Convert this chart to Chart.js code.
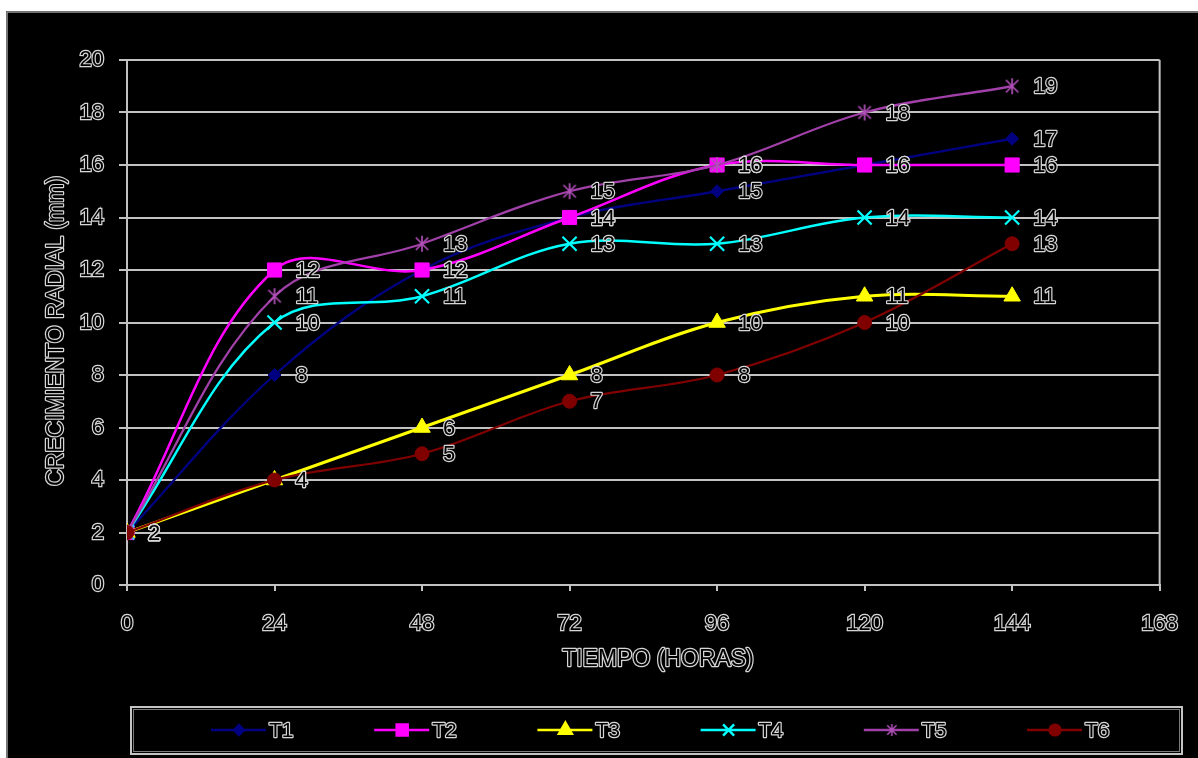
<!DOCTYPE html>
<html>
<head>
<meta charset="utf-8">
<script src="https://cdn.jsdelivr.net/npm/chart.js@4/dist/chart.umd.min.js"></script>
<style>
  html, body { margin: 0; padding: 0; background: #fff; }
  canvas { display: block; }
</style>
</head>
<body>
<canvas id="c" width="1198" height="758"></canvas>
<script>
// Radial growth (mm) per treatment, measured every 24 hours
const horas = [0, 24, 48, 72, 96, 120, 144];
const T1 = [2, 8, 12, 14, 15, 16, 17];
const T2 = [2, 12, 12, 14, 16, 16, 16];
const T3 = [2, 4, 6, 8, 10, 11, 11];
const T4 = [2, 10, 11, 13, 13, 14, 14];
const T5 = [2, 11, 13, 15, 16, 18, 19];
const T6 = [2, 4, 5, 7, 8, 10, 13];
const seriesNames = ['T1', 'T2', 'T3', 'T4', 'T5', 'T6'];
const xTickValues = [0, 24, 48, 72, 96, 120, 144, 168];
const yTickValues = [0, 2, 4, 6, 8, 10, 12, 14, 16, 18, 20];
const xTitle = 'TIEMPO (HORAS)';
const yTitle = 'CRECIMIENTO RADIAL (mm)';

const W = 1198, H = 758;
const FONT = '"Liberation Sans", Arial, sans-serif';
const GRID = '#c2c2c2';
const OUTLINE = '#d6d6d6';

// asterisk marker: two diagonals plus a vertical stroke
function makeAsterisk(color, size, lw) {
  const c = document.createElement('canvas');
  c.width = c.height = size;
  const g = c.getContext('2d');
  g.strokeStyle = color; g.lineWidth = lw; g.lineCap = 'butt';
  const m = size / 2, r = size / 2 - 1, d = r * 0.78;
  g.beginPath();
  g.moveTo(m - d, m - d); g.lineTo(m + d, m + d);
  g.moveTo(m + d, m - d); g.lineTo(m - d, m + d);
  g.moveTo(m, m - r); g.lineTo(m, m + r);
  g.stroke();
  return c;
}

const styles = [
  { color: '#000080', point: 'rectRot', radius: 6.5, width: 2.3 },
  { color: '#ff00ff', point: 'rect', radius: 10, width: 2.5 },
  { color: '#ffff00', point: 'triangle', radius: 9.5, width: 3 },
  { color: '#00ffff', point: 'crossRot', radius: 10, width: 2.5 },
  { color: '#a040a8', point: makeAsterisk('#b050b8', 18, 1.7), legendPoint: makeAsterisk('#b050b8', 14, 1.5), radius: 9, width: 2.3 },
  { color: '#800000', point: 'circle', radius: 7, width: 2.3 }
];
const values = [T1, T2, T3, T4, T5, T6];

const datasets = values.map((vals, i) => ({
  label: seriesNames[i],
  data: horas.map((h, k) => ({ x: h, y: vals[k] })),
  borderColor: styles[i].color,
  backgroundColor: styles[i].color,
  borderWidth: styles[i].width,
  pointStyle: styles[i].point,
  pointRadius: styles[i].radius,
  pointHoverRadius: styles[i].radius,
  pointBackgroundColor: styles[i].color,
  pointBorderColor: styles[i].color,
  pointBorderWidth: styles[i].point === 'crossRot' ? 2.2 : 1,
  tension: 0.36,
  fill: false,
  order: seriesNames.length - i
}));

function hollowText(ctx, text, x, y, size, align, rot) {
  ctx.save();
  ctx.translate(x, y);
  if (rot) ctx.rotate(rot);
  ctx.font = size + 'px ' + FONT;
  ctx.textAlign = align;
  ctx.textBaseline = 'middle';
  ctx.lineJoin = 'round';
  ctx.strokeStyle = OUTLINE;
  ctx.lineWidth = 2.4;
  ctx.strokeText(text, 0, 0);
  ctx.fillStyle = '#000';
  ctx.fillText(text, 0, 0);
  ctx.restore();
}

const framePlugin = {
  id: 'frame',
  beforeDraw(chart) {
    const ctx = chart.ctx;
    ctx.save();
    ctx.fillStyle = '#fff';
    ctx.fillRect(0, 0, W, H);
    ctx.fillStyle = '#000';
    ctx.fillRect(6, 11, W - 6, H - 11);
    ctx.strokeStyle = '#9a9a9a';
    ctx.lineWidth = 1.5;
    ctx.strokeRect(7, 12, W + 10, H + 10);
    ctx.restore();
  },
  beforeDatasetsDraw(chart) {
    // right edge of the plot area
    const a = chart.chartArea, ctx = chart.ctx;
    ctx.save();
    ctx.strokeStyle = GRID;
    ctx.lineWidth = 2;
    ctx.beginPath();
    ctx.moveTo(a.right, a.top);
    ctx.lineTo(a.right, a.bottom);
    ctx.stroke();
    ctx.restore();
  },
  afterDatasetsDraw(chart) {
    // value labels beside each point
    const ctx = chart.ctx;
    chart.data.datasets.forEach((ds, i) => {
      const meta = chart.getDatasetMeta(i);
      meta.data.forEach((pt, j) => {
        hollowText(ctx, String(ds.data[j].y), pt.x + 21, pt.y + 1, 22, 'left');
      });
    });
  },
  afterDraw(chart) {
    const ctx = chart.ctx;
    // axis titles
    hollowText(ctx, xTitle, 658, 660, 23, 'center');
    hollowText(ctx, yTitle, 57, 331, 23, 'center', -Math.PI / 2);

    // legend box
    ctx.save();
    ctx.strokeStyle = '#c4c4c4';
    ctx.lineWidth = 2;
    ctx.strokeRect(131, 707, 1051, 47);
    ctx.strokeStyle = '#7a7a7a';
    ctx.lineWidth = 1;
    ctx.strokeRect(133.5, 709.5, 1046, 42);
    ctx.restore();

    const ly = 730;
    seriesNames.forEach((name, i) => {
      const s = styles[i];
      const x0 = 211 + i * 163.2;
      ctx.save();
      ctx.strokeStyle = s.color;
      ctx.lineWidth = Math.min(s.width, 2.5);
      ctx.beginPath();
      ctx.moveTo(x0, ly);
      ctx.lineTo(x0 + 55, ly);
      ctx.stroke();
      ctx.fillStyle = s.color;
      ctx.strokeStyle = s.color;
      const ps = s.legendPoint || s.point;
      if (Chart.helpers && Chart.helpers.drawPoint) {
        Chart.helpers.drawPoint(ctx, {
          pointStyle: ps,
          radius: s.radius * 0.78,
          rotation: 0,
          borderWidth: s.point === 'crossRot' ? 2 : 1
        }, x0 + 28, ly);
      }
      ctx.restore();
      hollowText(ctx, name, x0 + 58, ly + 1, 21, 'left');
    });
  }
};

const tickFont = { family: FONT, size: 22 };

new Chart(document.getElementById('c'), {
  type: 'line',
  data: { datasets },
  options: {
    responsive: false,
    animation: false,
    devicePixelRatio: 1,
    layout: { padding: { top: 60, right: 35, left: 0, bottom: 0 } },
    plugins: {
      legend: { display: false },
      tooltip: { enabled: false },
      title: { display: false }
    },
    scales: {
      x: {
        type: 'linear',
        min: 0,
        max: 168,
        afterBuildTicks(scale) { scale.ticks = xTickValues.map(v => ({ value: v })); },
        afterFit(scale) { scale.height = 173; },
        ticks: {
          font: tickFont,
          color: '#000',
          textStrokeColor: OUTLINE,
          textStrokeWidth: 2.4,
          padding: 20,
          maxRotation: 0,
          autoSkip: false
        },
        grid: { drawOnChartArea: false, drawTicks: true, tickLength: 6, color: GRID, lineWidth: 2 },
        border: { color: GRID, width: 2 }
      },
      y: {
        min: 0,
        max: 20,
        afterBuildTicks(scale) { scale.ticks = yTickValues.map(v => ({ value: v })); },
        afterFit(scale) { scale.width = 127; },
        ticks: {
          font: tickFont,
          color: '#000',
          textStrokeColor: OUTLINE,
          textStrokeWidth: 2.4,
          padding: 15,
          autoSkip: false
        },
        grid: { color: GRID, lineWidth: 2, tickLength: 8 },
        border: { color: GRID, width: 2 }
      }
    }
  },
  plugins: [framePlugin]
});
</script>
</body>
</html>
